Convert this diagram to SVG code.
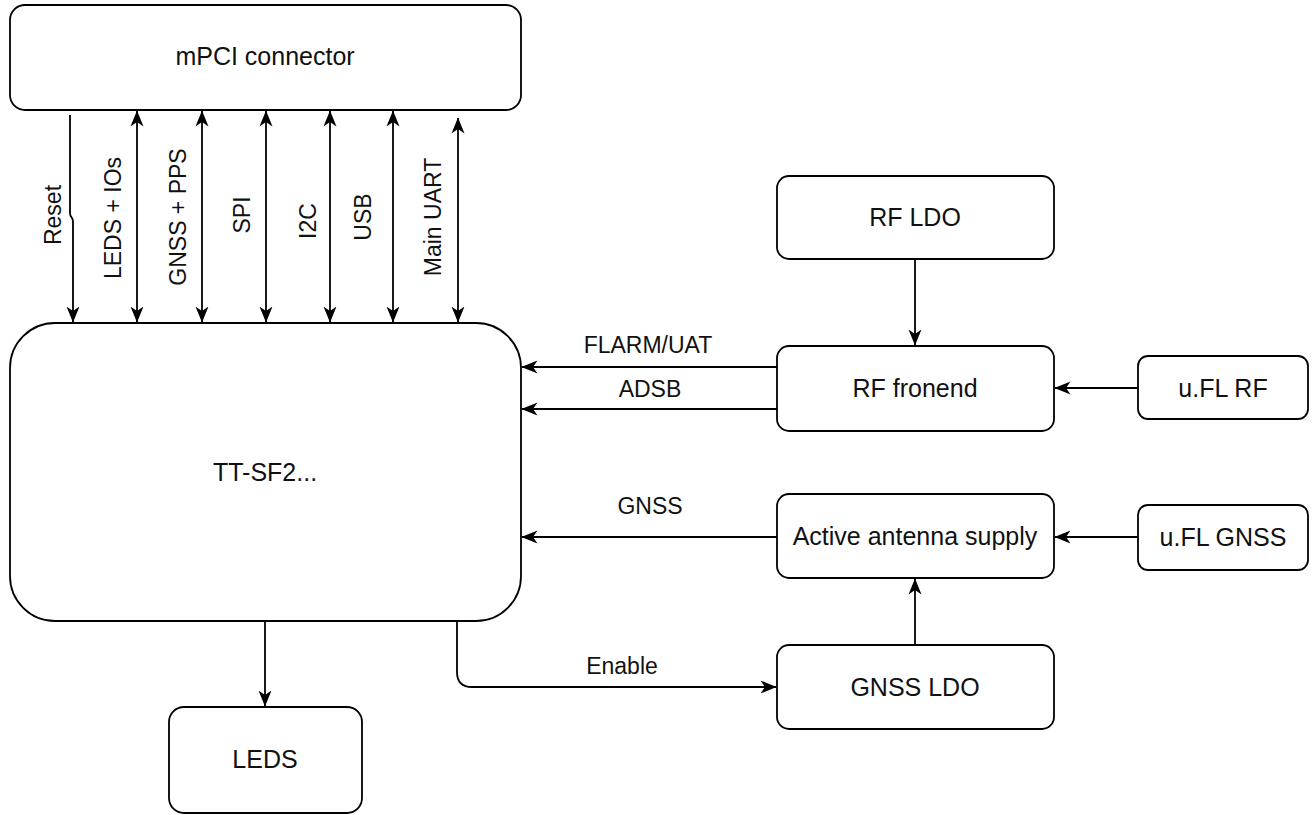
<svg xmlns="http://www.w3.org/2000/svg" width="1312" height="815" viewBox="0 0 1312 815">
<style>
.box{fill:#fff;stroke:#000;stroke-width:1.8}
.lbl{font-family:"Liberation Sans",Arial,Helvetica,sans-serif;font-size:25px;fill:#111;text-anchor:middle}
.elbl{font-family:"Liberation Sans",Arial,Helvetica,sans-serif;font-size:23px;fill:#111;text-anchor:middle}
.edge{fill:none;stroke:#000;stroke-width:1.8}
</style>
<defs>
<marker id="arr" viewBox="0 0 16 16" refX="15.5" refY="8" markerWidth="16" markerHeight="16" markerUnits="userSpaceOnUse" orient="auto-start-reverse">
<path d="M0,1.5 L16,8 L0,14.5 L4.5,8 Z" fill="#000"/>
</marker>
</defs>
<rect width="1312" height="815" fill="#fff"/>
<g id="mpci"><rect class="box" x="10" y="5" width="511" height="105" rx="15"/><text class="lbl" x="265" y="65">mPCI connector</text></g>
<g id="ttsf2"><rect class="box" x="10" y="323" width="511" height="298" rx="45"/><text class="lbl" x="265" y="481">TT-SF2...</text></g>
<g id="rfldo"><rect class="box" x="777" y="176" width="277" height="83" rx="12"/><text class="lbl" x="915" y="226">RF LDO</text></g>
<g id="rffrontend"><rect class="box" x="777" y="346" width="277" height="85" rx="12"/><text class="lbl" x="915" y="397">RF fronend</text></g>
<g id="uflrf"><rect class="box" x="1138" y="356" width="170" height="63" rx="10"/><text class="lbl" x="1223" y="397">u.FL RF</text></g>
<g id="antsupply"><rect class="box" x="777" y="494" width="277" height="84" rx="12"/><text class="lbl" x="915" y="545">Active antenna supply</text></g>
<g id="uflgnss"><rect class="box" x="1138" y="505" width="170" height="65" rx="10"/><text class="lbl" x="1223" y="546">u.FL GNSS</text></g>
<g id="gnssldo"><rect class="box" x="777" y="645" width="277" height="84" rx="12"/><text class="lbl" x="915" y="696">GNSS LDO</text></g>
<g id="leds"><rect class="box" x="169" y="707" width="193" height="106" rx="15"/><text class="lbl" x="265" y="768">LEDS</text></g>
<g id="connectors">
<path class="edge" d="M70,115 V213 C70,218 73,216 73,222 V322" marker-end="url(#arr)"/>
<path class="edge" d="M137,111 V322" marker-start="url(#arr)" marker-end="url(#arr)"/>
<path class="edge" d="M202,111 V322" marker-start="url(#arr)" marker-end="url(#arr)"/>
<path class="edge" d="M266,111 V322" marker-start="url(#arr)" marker-end="url(#arr)"/>
<path class="edge" d="M330,111 V322" marker-start="url(#arr)" marker-end="url(#arr)"/>
<path class="edge" d="M393,111 V322" marker-start="url(#arr)" marker-end="url(#arr)"/>
<path class="edge" d="M458,118 V322" marker-start="url(#arr)" marker-end="url(#arr)"/>
<path class="edge" d="M777,367 H522" marker-end="url(#arr)"/>
<path class="edge" d="M777,409 H522" marker-end="url(#arr)"/>
<path class="edge" d="M777,537 H522" marker-end="url(#arr)"/>
<path class="edge" d="M1138,388 H1055" marker-end="url(#arr)"/>
<path class="edge" d="M1138,537 H1055" marker-end="url(#arr)"/>
<path class="edge" d="M915,259 V345" marker-end="url(#arr)"/>
<path class="edge" d="M915,645 V579" marker-end="url(#arr)"/>
<path class="edge" d="M265,621 V706" marker-end="url(#arr)"/>
<path class="edge" d="M457,621 V672 Q457,687 472,687 H776" marker-end="url(#arr)"/>
<g id="edge-labels">
<text class="elbl" transform="translate(53,215) rotate(-90)" dy="0.35em">Reset</text>
<text class="elbl" transform="translate(113,218) rotate(-90)" dy="0.35em">LEDS + IOs</text>
<text class="elbl" transform="translate(178,217) rotate(-90)" dy="0.35em">GNSS + PPS</text>
<text class="elbl" transform="translate(242,215) rotate(-90)" dy="0.35em">SPI</text>
<text class="elbl" transform="translate(308,221) rotate(-90)" dy="0.35em">I2C</text>
<text class="elbl" transform="translate(363,217) rotate(-90)" dy="0.35em">USB</text>
<text class="elbl" transform="translate(433,217) rotate(-90)" dy="0.35em">Main UART</text>
<text class="elbl" x="648" y="353">FLARM/UAT</text>
<text class="elbl" x="650" y="397">ADSB</text>
<text class="elbl" x="650" y="514">GNSS</text>
<text class="elbl" x="622" y="674">Enable</text>
</g>
</g>
</svg>
